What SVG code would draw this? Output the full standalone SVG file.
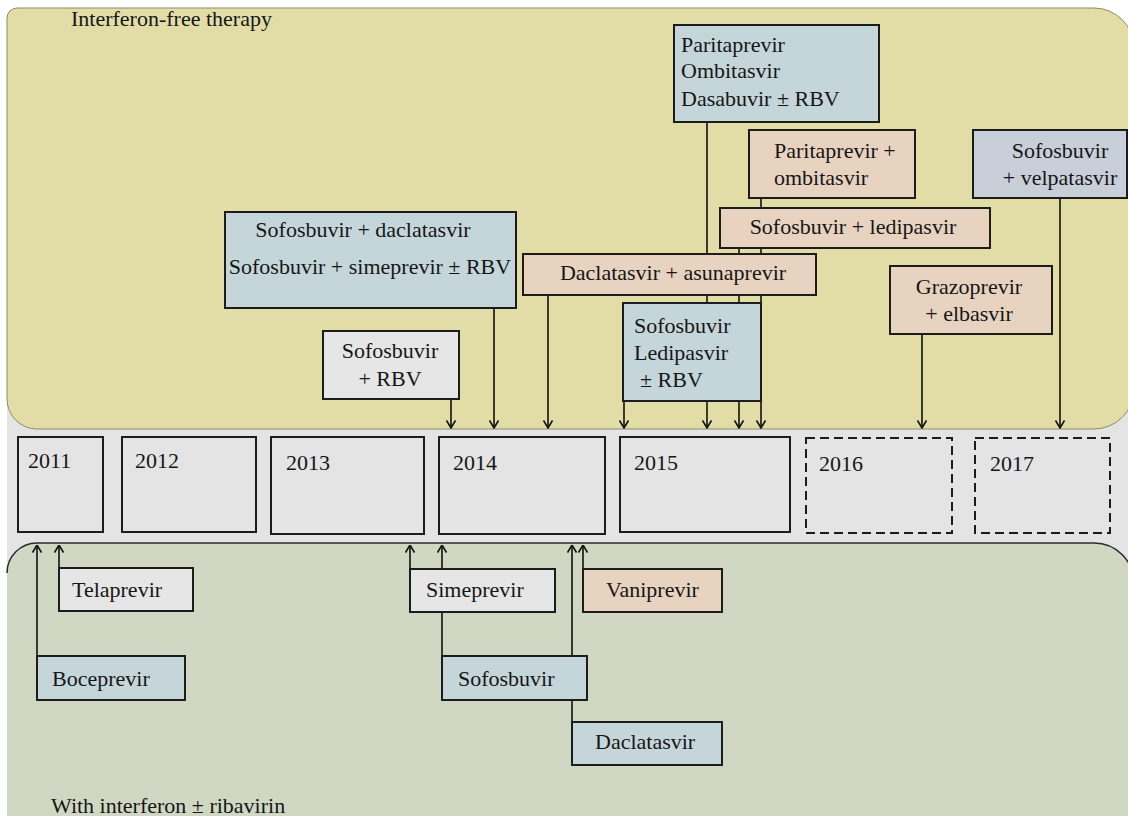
<svg xmlns="http://www.w3.org/2000/svg" width="1128" height="816" viewBox="0 0 1128 816">
<defs>
<marker id="ah" viewBox="0 0 10 10" refX="9.5" refY="5" markerWidth="10" markerHeight="10" markerUnits="userSpaceOnUse" orient="auto">
<path d="M2,0.5 L9.5,5 L2,9.5" fill="none" stroke="#111" stroke-width="1.6"/>
</marker>
<style>
text{font-family:"Liberation Serif","Times New Roman",serif;font-size:22px;fill:#161616}
.box{stroke:#1c1c1c;stroke-width:2}
.blue{fill:#c4d6da}
.peach{fill:#e8d3c1}
.lgray{fill:#e6e6e6}
.lav{fill:#c8cfd9}
.year{fill:#e4e4e4;stroke:#1c1c1c;stroke-width:2}
.dash{stroke-dasharray:9 5}
.c{text-anchor:middle}
.conn line{stroke:#111;stroke-width:1.6;marker-end:url(#ah)}
.conn line.plain{marker-end:none}
</style>
</defs>
<rect x="0" y="0" width="1128" height="816" fill="#ffffff"/>
<rect x="7" y="390" width="1130" height="200" fill="#e4e4e4"/>
<path d="M17,8 H1094 A40,40 0 0 1 1134,48 V389 A40,40 0 0 1 1094,429 H37 A30,30 0 0 1 7,399 V18 A10,10 0 0 1 17,8 Z" fill="#e2dda7" stroke="#8d8a6a" stroke-width="1"/>
<path d="M7,830 V573 A30,30 0 0 1 37,543 H1094 A40,40 0 0 1 1134,583 V830 Z" fill="#d0d8c4"/>
<path d="M7,573 A30,30 0 0 1 37,543 H1094 A40,40 0 0 1 1134,583" fill="none" stroke="#2a2a2a" stroke-width="1.5"/>
<text x="71" y="26">Interferon-free therapy</text>
<text x="51" y="813">With interferon ± ribavirin</text>

<g id="connectors" class="conn">
<line x1="451" y1="399" x2="451" y2="428"/>
<line x1="494" y1="308" x2="494" y2="428"/>
<line x1="548" y1="295" x2="548" y2="428"/>
<line x1="624" y1="401" x2="624" y2="428"/>
<line x1="707" y1="122" x2="707" y2="428"/>
<line x1="739" y1="248" x2="739" y2="428"/>
<line x1="761" y1="198" x2="761" y2="428"/>
<line x1="922" y1="334" x2="922" y2="428"/>
<line x1="1060" y1="198" x2="1060" y2="428"/>
<line x1="37" y1="656" x2="37" y2="545"/>
<line x1="59" y1="568" x2="59" y2="545"/>
<line x1="410" y1="569" x2="410" y2="545"/>
<line x1="442" y1="656" x2="442" y2="545"/>
<line x1="572" y1="722" x2="572" y2="545"/>
<line x1="583" y1="569" x2="583" y2="545"/>
</g>

<g id="y2011"><rect class="year" x="18" y="437" width="85" height="95"/><text x="28" y="468">2011</text></g>
<g id="y2012"><rect class="year" x="122" y="437" width="134" height="95"/><text x="135" y="468">2012</text></g>
<g id="y2013"><rect class="year" x="271" y="437" width="153" height="97"/><text x="286" y="470">2013</text></g>
<g id="y2014"><rect class="year" x="439" y="437" width="166" height="97"/><text x="453" y="470">2014</text></g>
<g id="y2015"><rect class="year" x="620" y="437" width="170" height="95"/><text x="634" y="470">2015</text></g>
<g id="y2016"><rect class="year dash" x="806" y="438" width="146" height="95"/><text x="819" y="471">2016</text></g>
<g id="y2017"><rect class="year dash" x="975" y="438" width="135" height="95"/><text x="990" y="471">2017</text></g>

<g id="n-pod"><rect class="box blue" x="674" y="25" width="205" height="97"/>
<text x="681" y="52">Paritaprevir</text><text x="681" y="78">Ombitasvir</text><text x="681" y="106">Dasabuvir ± RBV</text></g>
<g id="n-po"><rect class="box peach" x="749" y="130" width="166" height="68"/>
<text x="774" y="158">Paritaprevir +</text><text x="774" y="185">ombitasvir</text></g>
<g id="n-sv"><rect class="box lav" x="973" y="130" width="154" height="68"/>
<text class="c" x="1060" y="158">Sofosbuvir</text><text class="c" x="1060" y="185">+ velpatasvir</text></g>
<g id="n-sl"><rect class="box peach" x="720" y="208" width="270" height="40"/>
<text class="c" x="853" y="234">Sofosbuvir + ledipasvir</text></g>
<g id="n-da"><rect class="box peach" x="523" y="254" width="293" height="41"/>
<text class="c" x="673" y="280">Daclatasvir + asunaprevir</text></g>
<g id="n-sdss"><rect class="box blue" x="225" y="212" width="291" height="96"/>
<text class="c" x="363" y="237">Sofosbuvir + daclatasvir</text><text class="c" x="370" y="274">Sofosbuvir + simeprevir ± RBV</text></g>
<g id="n-srbv"><rect class="box lgray" x="323" y="331" width="136" height="68"/>
<text class="c" x="390" y="358">Sofosbuvir</text><text class="c" x="390" y="386">+ RBV</text></g>
<g id="n-slr"><rect class="box blue" x="623" y="303" width="138" height="98"/>
<text x="634" y="333">Sofosbuvir</text><text x="634" y="360">Ledipasvir</text><text x="640" y="387">± RBV</text></g>
<g id="n-ge"><rect class="box peach" x="890" y="266" width="162" height="68"/>
<text class="c" x="969" y="294">Grazoprevir</text><text class="c" x="969" y="321">+ elbasvir</text></g>

<g id="n-tel"><rect class="box lgray" x="59" y="568" width="134" height="43"/><text x="72" y="597">Telaprevir</text></g>
<g id="n-boc"><rect class="box blue" x="37" y="656" width="148" height="44"/><text x="52" y="686">Boceprevir</text></g>
<g id="n-sim"><rect class="box lgray" x="410" y="569" width="145" height="43"/><text x="426" y="597">Simeprevir</text></g>
<g id="n-van"><rect class="box peach" x="583" y="569" width="139" height="43"/><text x="606" y="597">Vaniprevir</text></g>
<g id="n-sof"><rect class="box blue" x="442" y="656" width="145" height="44"/><text x="458" y="686">Sofosbuvir</text></g>
<g id="n-dac"><rect class="box blue" x="572" y="722" width="150" height="43"/><text x="595" y="749">Daclatasvir</text></g>
</svg>
